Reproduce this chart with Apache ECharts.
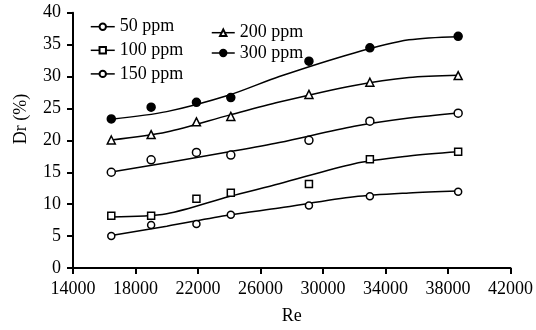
<!DOCTYPE html>
<html>
<head>
<meta charset="utf-8">
<script src="https://cdn.jsdelivr.net/npm/echarts@6/dist/echarts.min.js"></script>
<style>html,body{margin:0;padding:0;background:#fff;}#c{width:536px;height:330px;}</style>
</head>
<body>
<div id="c"></div>
<script>
// Measured points
var pointRe = [16450, 19000, 21900, 24100, 29100, 33000, 38650];
var p50  = [5.0, 6.75, 6.9, 8.35, 9.8, 11.25, 11.95];
var p100 = [8.2, 8.2, 10.85, 11.8, 13.15, 17.05, 18.2];
var p150 = [15.0, 16.95, 18.1, 17.7, 20.0, 23.0, 24.25];
var p200 = [20.05, 20.9, 22.9, 23.75, 27.2, 29.1, 30.15];
var p300 = [23.35, 25.2, 25.95, 26.7, 32.4, 34.5, 36.3];

// Fitted curves
var fitRe = [16450, 20000, 24000, 27200, 32000, 35500, 38650];
var f50  = [5.1, 6.55, 8.3, 9.4, 11.15, 11.75, 12.05];
var f100 = [8.0, 8.5, 11.2, 13.2, 16.35, 17.55, 18.2];
var f150 = [15.05, 16.5, 18.2, 19.65, 22.2, 23.5, 24.3];
var f200 = [20.05, 21.3, 23.95, 26.0, 28.6, 29.85, 30.2];
var f300 = [23.3, 24.5, 27.1, 30.0, 33.7, 35.75, 36.25];

var names = ['50 ppm', '100 ppm', '150 ppm', '200 ppm', '300 ppm'];
var xTicks = [14000, 18000, 22000, 26000, 30000, 34000, 38000, 42000];

var FONT = 'Liberation Serif';
var pts = [p50, p100, p150, p200, p300];
var fits = [f50, f100, f150, f200, f300];
var symbols = ['circle', 'rect', 'circle', 'triangle', 'circle'];
var sizes = [7, 7, 8, 8, 8];
var fills = ['#fff', '#fff', '#fff', '#fff', '#000'];

function zip(xs, ys) { return xs.map(function (x, i) { return [x, ys[i]]; }); }

var series = [];
for (var i = 0; i < 5; i++) {
  series.push({
    type: 'line', name: names[i] + ' fit', data: zip(fitRe, fits[i]),
    smooth: 0.3, showSymbol: false, symbol: 'none', silent: true,
    lineStyle: { color: '#000', width: 1.5 }, z: 2, animation: false
  });
}
for (var j = 0; j < 5; j++) {
  series.push({
    type: 'line', name: names[j], data: zip(pointRe, pts[j]),
    symbol: symbols[j], symbolSize: sizes[j], showAllSymbol: true,
    lineStyle: { opacity: 0, width: 0 },
    itemStyle: { color: fills[j], borderColor: '#000', borderWidth: 1.5, opacity: 1 },
    z: 5, animation: false
  });
}

function legendData(list) {
  return list.map(function (n) {
    return { name: n, lineStyle: { opacity: 1, width: 1.5, color: '#000', type: 'solid' } };
  });
}

var chart = echarts.init(document.getElementById('c'));
chart.setOption({
  backgroundColor: '#fff',
  animation: false,
  grid: { left: 73, right: 20, top: 12.7, bottom: 61, containLabel: false },
  legend: [
    { orient: 'vertical', left: 90, top: 17.7, padding: 0, itemGap: 5.6, itemWidth: 24, itemHeight: 8,
      data: legendData(names.slice(0, 3)),
      textStyle: { fontFamily: FONT, fontSize: 18, color: '#000', lineHeight: 16 } },
    { orient: 'vertical', left: 211, top: 23.7, padding: 0, itemGap: 2.3, itemWidth: 23, itemHeight: 8,
      data: legendData(names.slice(3)),
      textStyle: { fontFamily: FONT, fontSize: 18, color: '#000', lineHeight: 16 } }
  ],
  xAxis: {
    type: 'value', min: 14000, max: 42000,
    name: 'Re', nameLocation: 'middle', nameGap: 39,
    nameTextStyle: { fontFamily: FONT, fontSize: 18, color: '#000' },
    axisLine: { onZero: false, lineStyle: { color: '#000', width: 2 } },
    axisTick: { show: true, length: 6, lineStyle: { color: '#000', width: 2 }, customValues: xTicks },
    axisLabel: { fontFamily: FONT, fontSize: 18, color: '#000', margin: 12, customValues: xTicks,
      formatter: function (v) { return String(v); } },
    splitLine: { show: false }
  },
  yAxis: {
    type: 'value', min: 0, max: 40, interval: 5,
    axisLine: { show: true, lineStyle: { color: '#000', width: 2 } },
    axisTick: { show: true, length: 6, lineStyle: { color: '#000', width: 2 } },
    axisLabel: { fontFamily: FONT, fontSize: 18, color: '#000', margin: 12 },
    splitLine: { show: false }
  },
  graphic: [{
    type: 'text', x: 21, y: 119, rotation: Math.PI / 2,
    style: { text: 'Dr (%)', fontFamily: FONT, fontSize: 18, fill: '#000', align: 'center', verticalAlign: 'middle' }
  }],
  series: series
});
</script>
</body>
</html>
